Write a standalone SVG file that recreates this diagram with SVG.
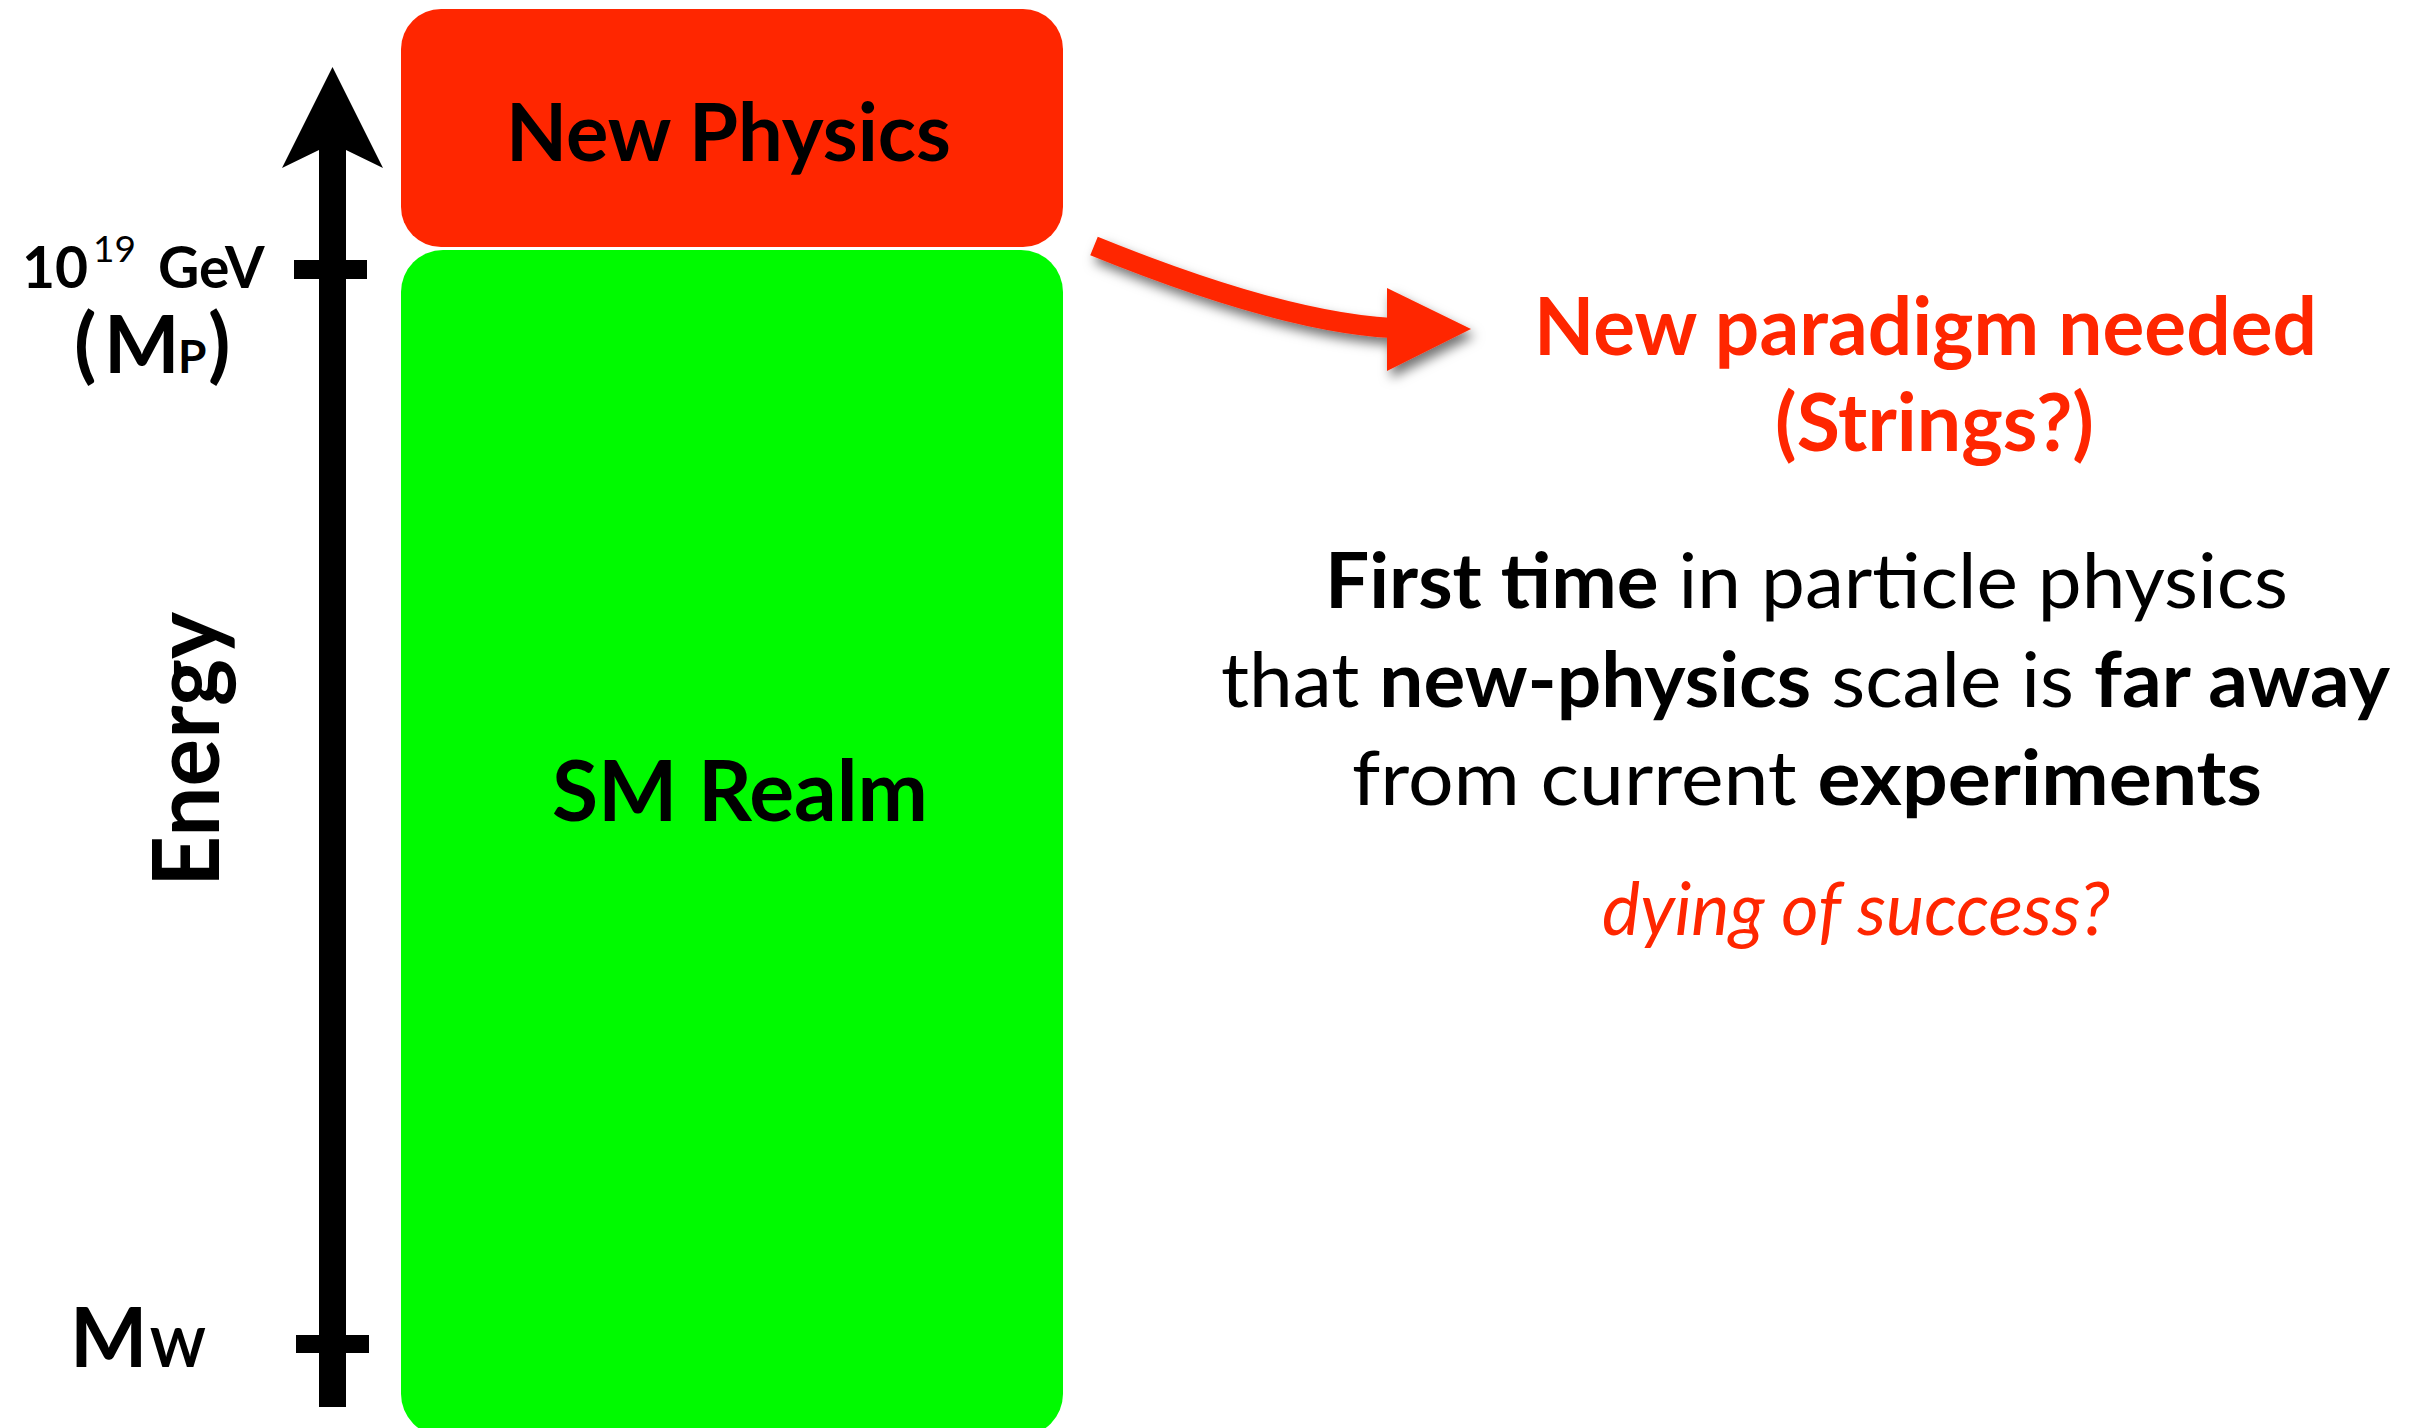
<svg xmlns="http://www.w3.org/2000/svg" width="2417" height="1428" viewBox="0 0 2417 1428">
<defs>
<style>
text{font-family:Lato,"Open Sans","Liberation Sans",sans-serif;fill:#000}
.b{font-weight:bold}
.r{font-weight:normal}
.red{fill:#FF2600}
.it{font-style:italic;font-weight:normal}
</style>
<filter id="sh" x="-20%" y="-50%" width="140%" height="200%">
<feDropShadow dx="4" dy="7" stdDeviation="6" flood-color="#000" flood-opacity="0.55"/>
</filter>
</defs>
<rect width="2417" height="1428" fill="#fff"/>

<g id="new-physics">
<rect x="401" y="9" width="662" height="238" rx="40" ry="40" fill="#FF2600"/>
<text class="b" x="728.5" y="161" font-size="80" text-anchor="middle" textLength="445" lengthAdjust="spacingAndGlyphs">New Physics</text>
</g>

<g id="sm-realm">
<rect x="401" y="250" width="662" height="1186" rx="42" ry="42" fill="#00FA00"/>
<text class="b" x="740" y="821" font-size="85" text-anchor="middle" textLength="376" lengthAdjust="spacingAndGlyphs">SM Realm</text>
</g>

<g id="energy-axis">
<path d="M319,1407 L319,150 L282,168 L332.5,67 L383,168 L346,150 L346,1407 Z" fill="#000"/>
<rect x="294" y="260" width="73" height="19" fill="#000"/>
<rect x="296" y="1335" width="73" height="18" fill="#000"/>
<text class="b" transform="translate(219,887) rotate(-90)" font-size="92" textLength="275" lengthAdjust="spacingAndGlyphs">Energy</text>
</g>

<g id="label-planck">
<text class="b" y="288" font-size="57"><tspan x="22">10</tspan><tspan class="r" x="93" dy="-26" font-size="37">19</tspan><tspan x="158" dy="26">GeV</tspan></text>
<text class="b" y="373" font-size="82"><tspan x="74">(</tspan><tspan x="104" font-size="80">M</tspan><tspan x="178" font-size="46">P</tspan><tspan x="208">)</tspan></text>
</g>

<g id="label-mw">
<text class="b" y="1367" font-size="82"><tspan x="70">M</tspan><tspan x="150" font-size="53">W</tspan></text>
</g>

<g id="connectors">
<g filter="url(#sh)">
<path d="M1094,246 Q1281,322 1392,328" fill="none" stroke="#FF2600" stroke-width="20"/>
<polygon points="1387,288 1471,329 1387,371" fill="#FF2600"/>
</g>
</g>

<g id="paradigm">
<text class="b red" x="1925.5" y="355" font-size="80" text-anchor="middle" textLength="783" lengthAdjust="spacingAndGlyphs">New paradigm needed</text>
<text class="b red" x="1934.5" y="451" font-size="80" text-anchor="middle" textLength="319" lengthAdjust="spacingAndGlyphs">(Strings?)</text>
</g>

<g id="statement">
<text x="1806.5" y="608" font-size="76" text-anchor="middle" textLength="963" lengthAdjust="spacingAndGlyphs"><tspan class="b">First time</tspan><tspan class="r"> in particle physics</tspan></text>
<text x="1805.5" y="707" font-size="76" text-anchor="middle" textLength="1169" lengthAdjust="spacingAndGlyphs"><tspan class="r">that </tspan><tspan class="b">new-physics</tspan><tspan class="r"> scale is </tspan><tspan class="b">far away</tspan></text>
<text x="1807" y="805" font-size="76" text-anchor="middle" textLength="910" lengthAdjust="spacingAndGlyphs"><tspan class="r">from current </tspan><tspan class="b">experiments</tspan></text>
<text class="it red" x="1856" y="935" font-size="74" text-anchor="middle" textLength="508" lengthAdjust="spacingAndGlyphs">dying of success?</text>
</g>
</svg>
